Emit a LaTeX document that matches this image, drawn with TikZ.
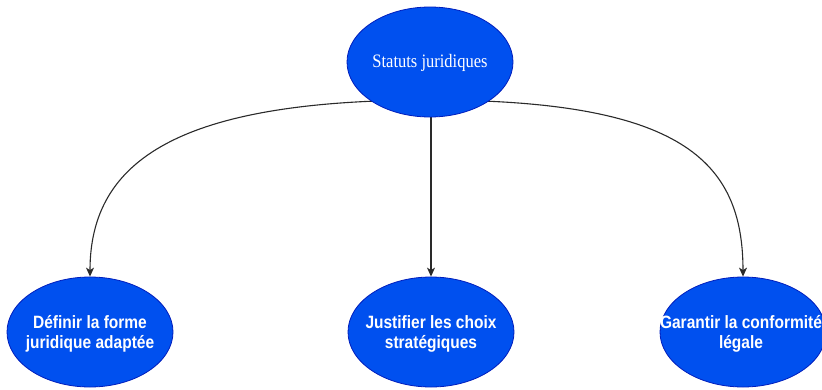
\documentclass[tikz,border=0pt]{standalone}
\usepackage{fontspec}
\setmainfont{Liberation Serif}
\newfontfamily\labelfont{Liberation Sans}
\usetikzlibrary{shapes.geometric,arrows.meta,backgrounds}
\definecolor{nodefill}{HTML}{0050EF}
\definecolor{nodestroke}{HTML}{001DBC}
\definecolor{edgecol}{HTML}{2A2A2A}
\tikzset{
  blob/.style={ellipse, draw=nodestroke, fill=nodefill, line width=0.8pt,
    minimum width=166pt, minimum height=110pt, inner sep=0pt},
  toptext/.style={text=white, align=center, inner sep=0pt,
    font=\fontsize{16.5}{20}\selectfont},
  subtext/.style={text=white, align=center, inner sep=0pt,
    font=\labelfont\bfseries\fontsize{15.5}{20}\selectfont},
  arr/.style={draw=edgecol, line width=1.1pt,
    -{Stealth[length=9pt,width=8pt,inset=2.5pt]}}
}
\begin{document}
\begin{tikzpicture}[x=1pt,y=-1pt]
\useasboundingbox (0,0) rectangle (822,389);
\node[blob] (top) at (430,62) {};
\node[toptext] (toplabel) at ([yshift=-1pt]top.center) {\scalebox{1}[1.15]{Statuts juridiques}};
\node[blob] (left) at (90,332) {};
\node[subtext] (leftlabel) at ([yshift=-2pt]left.center) {\scalebox{1}[1.15]{Définir la forme}\\\scalebox{1}[1.15]{juridique adaptée}};
\node[blob] (mid) at (431,332) {};
\node[subtext] (midlabel) at ([yshift=-2pt]mid.center) {\scalebox{1}[1.15]{Justifier les choix}\\\scalebox{1}[1.15]{stratégiques}};
\node[blob] (right) at (743,332) {};
\node[subtext] (rightlabel) at ([xshift=-2pt,yshift=-2pt]right.center) {\scalebox{1}[1.15]{Garantir la conformité}\\\scalebox{1}[1.15]{légale}};
\begin{scope}[on background layer]
\draw[arr] ([yshift=-38pt]top.center) .. controls +(-250,0) and +(0,-117) .. (left.north);
\draw[arr] (top.south -| mid.north) -- (mid.north);
\draw[arr] ([yshift=-38pt]top.center) .. controls +(250,0) and +(0,-117) .. (right.north);
\end{scope}
\end{tikzpicture}
\end{document}
